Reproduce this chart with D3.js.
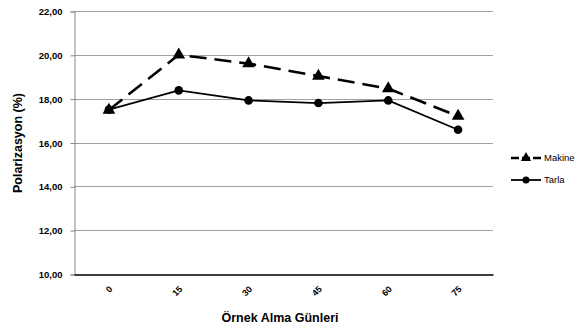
<!DOCTYPE html>
<meta charset="utf-8">
<style>
body { margin: 0; background: #fff; }
text { font-family: "Liberation Sans", Arial, sans-serif; fill: #000; }
.grid line { stroke: #a0a0a0; stroke-width: 1px; }
</style>
<svg width="582" height="328"></svg>
<script src="https://cdn.jsdelivr.net/npm/d3@7"></script>
<script>

var days = ["0", "15", "30", "45", "60", "75"];
var makine = [17.48, 20.0, 19.6, 19.03, 18.46, 17.2];
var tarla = [17.5, 18.38, 17.92, 17.8, 17.92, 16.58];
var yTicks = [10, 12, 14, 16, 18, 20, 22];

var svg = d3.select("svg"),
    plotLeft = 74, plotRight = 493, plotTop = 11, plotBottom = 274;

var x = d3.scaleBand().domain(days).range([plotLeft, plotRight]);
var y = d3.scaleLinear().domain([10, 22]).range([plotBottom, plotTop]);
var cx = function(d) { return x(d) + x.bandwidth() / 2; };
var fmt = function(v) { return d3.format(".2f")(v).replace(".", ","); };

// gridlines
svg.append("g").attr("class", "grid")
  .selectAll("line").data(yTicks.slice(1)).enter().append("line")
    .attr("x1", plotLeft).attr("x2", plotRight)
    .attr("y1", function(d) { return Math.round(y(d)) + 0.5; })
    .attr("y2", function(d) { return Math.round(y(d)) + 0.5; });

// y axis
var ya = svg.append("g").attr("transform", "translate(" + (plotLeft + 0.5) + ",0.5)")
  .call(d3.axisLeft(y).tickValues(yTicks).tickFormat(fmt).tickSize(4).tickPadding(8));
ya.select(".domain").attr("stroke", "#888");
ya.selectAll(".tick line").attr("stroke", "#888");
ya.selectAll("text").style("font-size", "9.5px").style("font-weight", "bold");

// x axis
var xa = svg.append("g").attr("transform", "translate(0," + (plotBottom + 0.5) + ")")
  .call(d3.axisBottom(x).tickSize(0).tickPadding(0));
xa.select(".domain").attr("stroke", "#000").attr("stroke-width", 1.3);
xa.selectAll("text")
  .style("font-size", "9px").style("font-weight", "bold")
  .attr("text-anchor", "end")
  .attr("transform", "translate(2,13) rotate(-45)")
  .attr("dy", "0.35em");

// titles
svg.append("text")
  .attr("transform", "translate(22,143) rotate(-90)")
  .attr("text-anchor", "middle")
  .style("font-size", "12.5px").style("font-weight", "bold")
  .text("Polarizasyon (%)");

svg.append("text")
  .attr("x", 280).attr("y", 322)
  .attr("text-anchor", "middle")
  .style("font-size", "12.5px").style("font-weight", "bold")
  .text("Örnek Alma Günleri");

var line = d3.line().x(function(d, i) { return cx(days[i]); }).y(function(d) { return y(d); });
var tri = d3.symbol().type(d3.symbolTriangle).size(70);

// Makine
svg.append("path").datum(makine)
  .attr("d", line).attr("fill", "none").attr("stroke", "#000")
  .attr("stroke-width", 2.6).attr("stroke-dasharray", "17,8");
svg.selectAll(".tri").data(makine).enter().append("path")
  .attr("class", "tri")
  .attr("d", tri)
  .attr("transform", function(d, i) { return "translate(" + cx(days[i]) + "," + y(d) + ")"; });

// Tarla
svg.append("path").datum(tarla)
  .attr("d", line).attr("fill", "none").attr("stroke", "#000").attr("stroke-width", 1.8);
svg.selectAll(".dot").data(tarla).enter().append("circle")
  .attr("class", "dot")
  .attr("cx", function(d, i) { return cx(days[i]); })
  .attr("cy", function(d) { return y(d); })
  .attr("r", 4.3);

// legend
var legend = [
  {name: "Makine", y: 158, dash: "8,3", sym: "tri"},
  {name: "Tarla", y: 180, dash: null, sym: "dot"}
];
var lg = svg.selectAll(".lg").data(legend).enter().append("g")
  .attr("transform", function(d) { return "translate(0," + d.y + ")"; });
lg.append("line").attr("x1", 511).attr("x2", 541)
  .attr("stroke", "#000").attr("stroke-width", function(d) { return d.dash ? 2.4 : 1.8; })
  .attr("stroke-dasharray", function(d) { return d.dash; });
lg.each(function(d) {
  var g = d3.select(this);
  if (d.sym === "tri") g.append("path").attr("d", d3.symbol().type(d3.symbolTriangle).size(45)).attr("transform", "translate(526,0)");
  else g.append("circle").attr("cx", 526).attr("r", 3.5);
});
lg.append("text").attr("x", 544).attr("dy", "0.35em")
  .style("font-size", "9.5px").text(function(d) { return d.name; });

</script>
